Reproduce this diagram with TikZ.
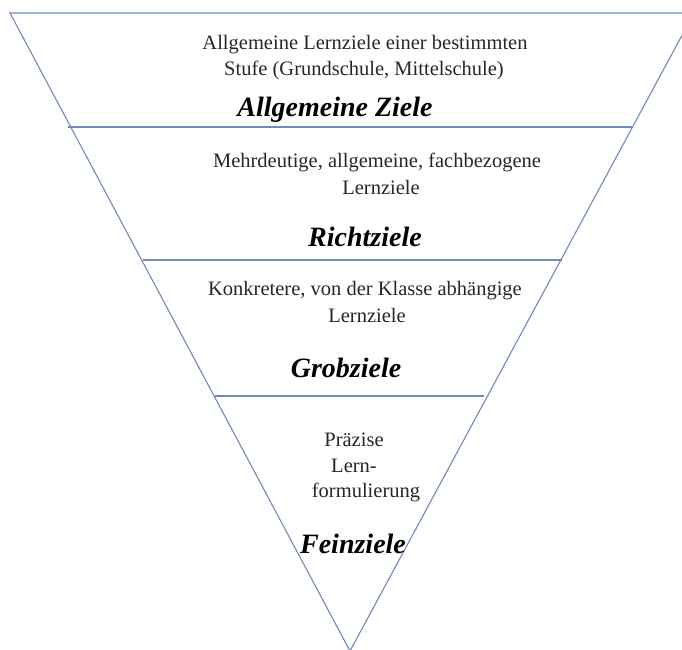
\documentclass[tikz,border=0pt]{standalone}
\usepackage{fontspec}
\setmainfont{Liberation Serif}
\definecolor{linecol}{RGB}{112,138,188}
\begin{document}
\begin{tikzpicture}[x=1pt,y=-1pt,
  lin/.style={draw=linecol,line width=1.1pt},
  body/.style={anchor=base,inner sep=0pt,font=\fontsize{20.5}{26}\selectfont,text=black!85},
  head/.style={anchor=base,inner sep=0pt,font=\fontsize{28}{32}\selectfont\bfseries\itshape,text=black}]
\useasboundingbox (0,0) rectangle (682,649);
\clip (0,0) rectangle (682,649);
\coordinate (tl) at (10,13);
\coordinate (tr) at (694,13);
\coordinate (ap) at (350,651);
\draw[lin] (tl) -- (tr) -- (ap) -- cycle;
\coordinate (l1a) at (68,127); \coordinate (l1b) at (632,127);
\coordinate (l2a) at (143,260); \coordinate (l2b) at (562,260);
\coordinate (l3a) at (215,396); \coordinate (l3b) at (484,396);
\draw[lin] (l1a) -- (l1b);
\draw[lin] (l2a) -- (l2b);
\draw[lin] (l3a) -- (l3b);
\node[body] (t1a) at (365,49) {Allgemeine Lernziele einer bestimmten};
\node[body] (t1b) at (364,75) {Stufe (Grundschule, Mittelschule)};
\node[head] (h1) at (335,116) {Allgemeine Ziele};
\node[body] (t2a) at (377,167) {Mehrdeutige, allgemeine, fachbezogene};
\node[body] (t2b) at (381,194) {Lernziele};
\node[head] (h2) at (365,246) {Richtziele};
\node[body] (t3a) at (365,295) {Konkretere, von der Klasse abhängige};
\node[body] (t3b) at (367,322) {Lernziele};
\node[head] (h3) at (346,377) {Grobziele};
\node[body] (t4a) at (354,446) {Präzise};
\node[body] (t4b) at (354,472) {Lern-};
\node[body] (t4c) at (366,497) {formulierung};
\node[head] (h4) at (353,553) {Feinziele};
\end{tikzpicture}
\end{document}
